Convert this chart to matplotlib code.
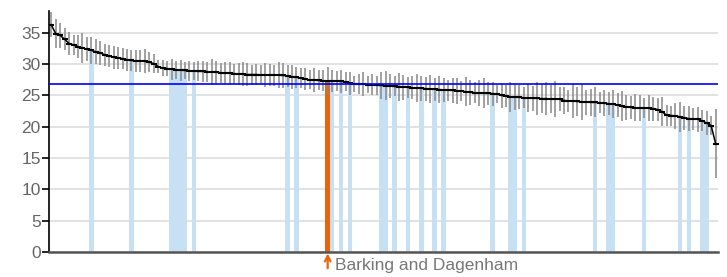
import matplotlib.pyplot as plt
import numpy as np

plt.rcParams['font.family'] = ['Liberation Sans', 'DejaVu Sans']

# ranked values (one per local authority)
values = [36.3, 34.9, 34.6, 34.0, 33.3, 33.1, 32.8, 32.6, 32.4, 32.2,
          32.0, 31.8, 31.5, 31.3, 31.1, 31.0, 30.9, 30.7, 30.6, 30.5,
          30.5, 30.45, 30.3, 30.1, 29.6, 29.4, 29.3, 29.2, 29.1, 29.05,
          29.0, 28.95, 28.9, 28.85, 28.85, 28.8, 28.75, 28.7, 28.65, 28.6,
          28.55, 28.5, 28.45, 28.4, 28.35, 28.35, 28.35, 28.3, 28.3, 28.3,
          28.25, 28.25, 28.2, 28.15, 28.0, 27.9, 27.8, 27.6, 27.5, 27.45,
          27.4, 27.35, 27.35, 27.3, 27.3, 27.25, 27.2, 26.95, 26.85, 26.8,
          26.8, 26.75, 26.7, 26.65, 26.6, 26.55, 26.5, 26.45, 26.4, 26.35,
          26.3, 26.25, 26.2, 26.15, 26.1, 26.05, 26.0, 25.95, 25.9, 25.85,
          25.8, 25.75, 25.7, 25.6, 25.5, 25.45, 25.4, 25.35, 25.35, 25.3,
          25.25, 25.0, 24.95, 24.8, 24.75, 24.7, 24.65, 24.6, 24.55, 24.55,
          24.5, 24.5, 24.45, 24.45, 24.4, 24.2, 24.15, 24.1, 24.05, 24.0,
          23.95, 23.9, 23.9, 23.85, 23.75, 23.7, 23.6, 23.5, 23.3, 23.15,
          23.1, 23.05, 23.0, 23.0, 22.95, 22.9, 22.75, 22.4, 21.85, 21.8,
          21.75, 21.6, 21.45, 21.3, 21.25, 21.2, 20.95, 20.6, 20.2, 17.3]

# half-width of the confidence interval
errors = [2.0, 2.3, 2.0, 1.8, 1.9, 1.6, 1.8, 2.4, 1.9, 2.1,
          2.0, 1.9, 1.8, 1.7, 1.8, 1.8, 1.7, 1.8, 1.7, 1.8,
          1.7, 1.9, 1.6, 1.5, 1.0, 1.3, 1.2, 1.7, 1.4, 1.7,
          1.4, 1.6, 1.5, 1.6, 1.7, 1.6, 2.1, 1.8, 1.6, 1.7,
          1.8, 1.6, 1.7, 1.9, 1.8, 1.6, 1.7, 1.5, 1.9, 1.8,
          1.7, 2.1, 2.0, 1.8, 1.9, 1.7, 1.6, 1.8, 1.5, 1.9,
          1.6, 1.7, 2.2, 1.7, 1.6, 1.9, 1.5, 1.8, 1.3, 1.6,
          1.9, 1.4, 1.7, 1.5, 2.1, 2.3, 1.9, 1.6, 2.2, 2.0,
          1.7, 1.8, 2.3, 2.0, 1.9, 2.2, 1.8, 2.1, 1.9, 1.7,
          2.0, 2.1, 1.6, 2.3, 2.0, 1.7, 2.1, 2.4, 1.8, 1.9,
          1.5, 2.0, 1.8, 2.4, 2.1, 1.9, 1.7, 2.2, 2.0, 2.6,
          2.3, 2.6, 2.2, 2.9, 1.9, 2.2, 1.8, 2.7, 2.3, 2.9,
          2.0, 2.2, 2.4, 1.7, 2.1, 1.8, 2.2, 1.9, 2.4, 2.0,
          1.8, 2.2, 2.0, 1.6, 2.1, 1.9, 1.8, 2.3, 1.7, 1.6,
          2.1, 2.4, 1.9, 2.0, 1.8, 2.0, 1.7, 1.9, 1.5, 5.5]

london = [9, 18, 27, 28, 29, 30, 32, 53, 55, 63, 65, 67, 74, 75, 77, 80,
          83, 86, 88, 99, 103, 104, 106, 122, 125, 126, 133, 141, 143, 146, 147]
highlight = 62
highlight_name = "Barking and Dagenham"
average = 26.85

x = np.arange(len(values))
vals = np.array(values)

fig = plt.figure(figsize=(7.27, 2.77), dpi=100)
ax = fig.add_axes([0.0674, 0.0903, 0.92, 0.870])

ax.bar(london, vals[london], width=1.0, color="#c8e0f4", zorder=1)
ax.bar([highlight], [vals[highlight]], width=1.0, color="#e8650a", zorder=1)

ax.errorbar(x, vals, yerr=errors, fmt="none", ecolor="#888888",
            elinewidth=1.1, zorder=2)
ax.plot(x, vals, color="black", lw=1.1, marker="_", markersize=4.5,
        markeredgewidth=1.5, zorder=3)

ax.axhline(average, color="#0000ff", lw=1.2, zorder=4)

ax.set_xlim(-0.5, len(values) - 0.5)
ax.set_ylim(0, 38.5)
ax.set_yticks(range(0, 36, 5))
ax.yaxis.grid(True, color="#dddddd", lw=1.2)
ax.set_axisbelow(True)
ax.set_xticks([])
ax.tick_params(axis="y", length=5, width=1.2, color="black",
               labelcolor="#666666", labelsize=12.5, pad=1)
for s in ["top", "right"]:
    ax.spines[s].set_visible(False)
ax.spines["left"].set_linewidth(1.2)
ax.spines["bottom"].set_color("#555555")
ax.spines["bottom"].set_linewidth(1.8)

ax.annotate("", xy=(highlight, 0), xytext=(highlight, -2.6),
            arrowprops=dict(arrowstyle="->", color="#e8650a", lw=1.6,
                            shrinkA=0, shrinkB=1),
            annotation_clip=False)
ax.text(highlight + 1.6, -2.1, highlight_name, color="#777777",
        fontsize=12.5, va="center", ha="left", clip_on=False)

fig.savefig("out.png", dpi=100)
